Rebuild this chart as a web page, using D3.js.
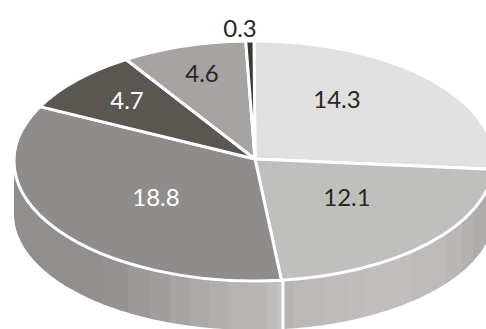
<!DOCTYPE html>
<html>
<head>
<meta charset="utf-8">
<script src="https://cdn.jsdelivr.net/npm/d3@7"></script>
<style>
html, body { margin: 0; padding: 0; background: #fff; }
svg { display: block; }
text { font-family: Lato, "Open Sans", sans-serif; font-size: 24px; text-anchor: middle; }
</style>
</head>
<body>
<div id="graph"></div>
<script>
// slices, clockwise from twelve o'clock
var values = [14.3, 12.1, 18.8, 4.7, 4.6, 0.3]
var labels = ["14.3", "12.1", "18.8", "4.7", "4.6", "0.3"]
var sliceColors = ["#e0e0e0", "#bfbfbd", "#8f8d8b", "#5a5752", "#a5a4a2", "#3a3835"]
var labelColors = ["#2b2622", "#2b2622", "#ffffff", "#ffffff", "#2b2622", "#2b2622"]
var labelX = [337, 347, 156, 127, 202, 240]
var labelY = [99, 197, 197, 100, 73, 28]

// shaded strips along the rim, left to right
var stripEdges = [0, 103, 128, 150, 170, 189, 209, 228, 248, 267, 278, 283, 293, 322, 346, 366, 412, 445, 462, 473, 486]
var stripColors = ["#918f8d", "#949290", "#9a9997", "#9f9e9c", "#a5a4a2", "#abaaa8", "#b0afad", "#b5b4b2",
    "#b8b7b5", "#bfbebc", "#c6c5c3", "#b5b4b2", "#bab9b7", "#bcbbb9", "#bebdbb", "#c0bfbd", "#bcbbb9",
    "#b8b7b5", "#b2b1af", "#aeadab"]

const width = 486, height = 329
const cx = 254, cy = 161, rx = 240, ry = 120
const apexX = 1, apexY = -2
const wallCy = 214, wallRy = 116

var svg = d3.select("#graph").append("svg").attr("width", width).attr("height", height)

var pie = d3.pie().sort(null)
var arcs = pie(values)

// outline of the wall: rim ellipse on top, lower ellipse below
function wallPath() {
    var p = d3.path()
    p.moveTo(cx - rx, cy)
    d3.range(0, 181).forEach(function (d) {
        var a = Math.PI - d * Math.PI / 180
        p.lineTo(cx + rx * Math.cos(a), wallCy + wallRy * Math.sin(a))
    })
    p.lineTo(cx + rx, cy)
    p.closePath()
    return p.toString()
}

svg.append("clipPath").attr("id", "wall").append("path").attr("d", wallPath())

var wall = svg.append("g").attr("clip-path", "url(#wall)")
wall.selectAll("rect").data(stripColors).enter().append("rect")
    .attr("x", function (d, i) { return stripEdges[i] })
    .attr("width", function (d, i) { return stripEdges[i + 1] - stripEdges[i] + 0.5 })
    .attr("y", cy)
    .attr("height", height - cy)
    .attr("fill", function (d) { return d })

// the seam on the wall under the 12.1 / 18.8 boundary
var seamAngle = arcs[1].endAngle
var seamX = cx + rx * Math.sin(seamAngle)
wall.append("line")
    .attr("x1", seamX + 1.5).attr("x2", seamX + 1.5)
    .attr("y1", cy).attr("y2", height)
    .attr("stroke", "#fff").attr("stroke-width", 3)

// wedge in unit-circle space, squashed by the group's transform
function slicePath(d) {
    var p = d3.path()
    p.moveTo(apexX, apexY * rx / ry)
    p.arc(0, 0, rx, d.startAngle - Math.PI / 2, d.endAngle - Math.PI / 2)
    p.closePath()
    return p.toString()
}

var face = svg.append("g").attr("transform", `translate(${cx},${cy}) scale(1,${ry / rx})`)
face.selectAll("path").data(arcs).enter().append("path")
    .attr("d", slicePath)
    .attr("fill", function (d, i) { return sliceColors[i] })
    .attr("stroke", "#fff")
    .attr("stroke-width", 3)
    .attr("stroke-linejoin", "round")
    .attr("vector-effect", "non-scaling-stroke")

svg.selectAll("text").data(labels).enter().append("text")
    .attr("x", function (d, i) { return labelX[i] })
    .attr("y", function (d, i) { return labelY[i] })
    .attr("dy", "0.36em")
    .attr("fill", function (d, i) { return labelColors[i] })
    .text(function (d) { return d })
</script>
</body>
</html>
